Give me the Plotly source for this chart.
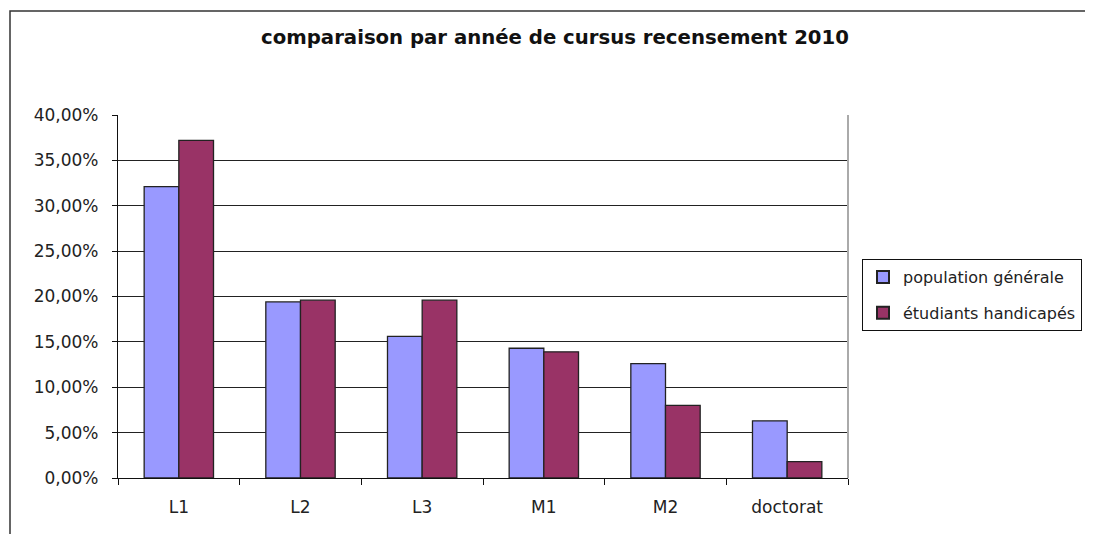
import plotly.graph_objects as go

categories = ["L1", "L2", "L3", "M1", "M2", "doctorat"]
population_generale = [32.1, 19.4, 15.6, 14.3, 12.6, 6.3]
etudiants_handicapes = [37.2, 19.6, 19.6, 13.9, 8.0, 1.8]
series_names = ["population générale", "étudiants handicapés"]
y_ticks = [0, 5, 10, 15, 20, 25, 30, 35, 40]
y_ticktext = [f"{v:.2f}".replace(".", ",") + "%" for v in y_ticks]

FONT = "DejaVu Sans, Liberation Sans, Arial, sans-serif"
OFF = 8  # default body margin of the html page

fig = go.Figure()
fig.add_trace(go.Bar(x=categories, y=population_generale, name=series_names[0],
                     legendgroup="a",
                     marker=dict(color="#9999FF", line=dict(color="#222222", width=1.3))))
fig.add_trace(go.Bar(x=categories, y=etudiants_handicapes, name=series_names[1],
                     legendgroup="b",
                     marker=dict(color="#993366", line=dict(color="#222222", width=1.3))))

PW, PH = 1093, 542               # page (window) size
W, H = PW - OFF, PH - 2 * OFF    # figure size so the page does not overflow
L, R, T, B = 118, 848, 115, 478  # plot area in page pixels
fig.update_layout(
    width=W, height=H,
    margin=dict(l=L - OFF, r=W - (R - OFF), t=T - OFF, b=H - (B - OFF), autoexpand=False),
    paper_bgcolor="white", plot_bgcolor="white",
    barmode="group", bargap=0.43, bargroupgap=0,
    font=dict(family=FONT, size=17, color="#222222"),
    title=dict(text="<b>comparaison par année de cursus recensement 2010</b>",
               x=(555 - OFF) / W, xanchor="center", y=1 - (37 - OFF) / H, yanchor="middle",
               font=dict(family=FONT, size=19.7, color="#111111")),
    legend=dict(x=(862 - L) / (R - L), xanchor="left",
                y=(B - 259) / (B - T), yanchor="top",
                bordercolor="#111111", borderwidth=1, bgcolor="white",
                font=dict(family=FONT, size=16, color="#222222"),
                tracegroupgap=12, itemsizing="constant"),
    showlegend=True,
)
fig.update_xaxes(showline=True, linecolor="#111111", linewidth=1.2, mirror=False,
                 ticks="outside", tickson="boundaries", ticklen=6, tickcolor="#111111",
                 showgrid=False, ticklabelstandoff=13, tickfont=dict(size=17))
fig.update_yaxes(range=[0, 40], tickvals=y_ticks, ticktext=y_ticktext,
                 showline=True, linecolor="#111111", linewidth=1.2,
                 ticks="outside", ticklen=5, tickcolor="#111111",
                 showgrid=True, gridcolor="#222222", gridwidth=1,
                 zeroline=False, ticklabelstandoff=10, tickfont=dict(size=17))
# right border of plot area (gray)
fig.add_shape(type="line", xref="paper", yref="paper", x0=1, x1=1, y0=0, y1=1,
              line=dict(color="#AAAAAA", width=2))
# outer chart frame
fig.add_shape(type="rect", xref="paper", yref="paper",
              x0=(10 - L) / (R - L), x1=(PW + 30 - L) / (R - L),
              y0=(B - (PH + 30)) / (B - T), y1=(B - 11) / (B - T),
              line=dict(color="#333333", width=1.5), fillcolor="rgba(0,0,0,0)", layer="above")

fig.write_html("out.html")
